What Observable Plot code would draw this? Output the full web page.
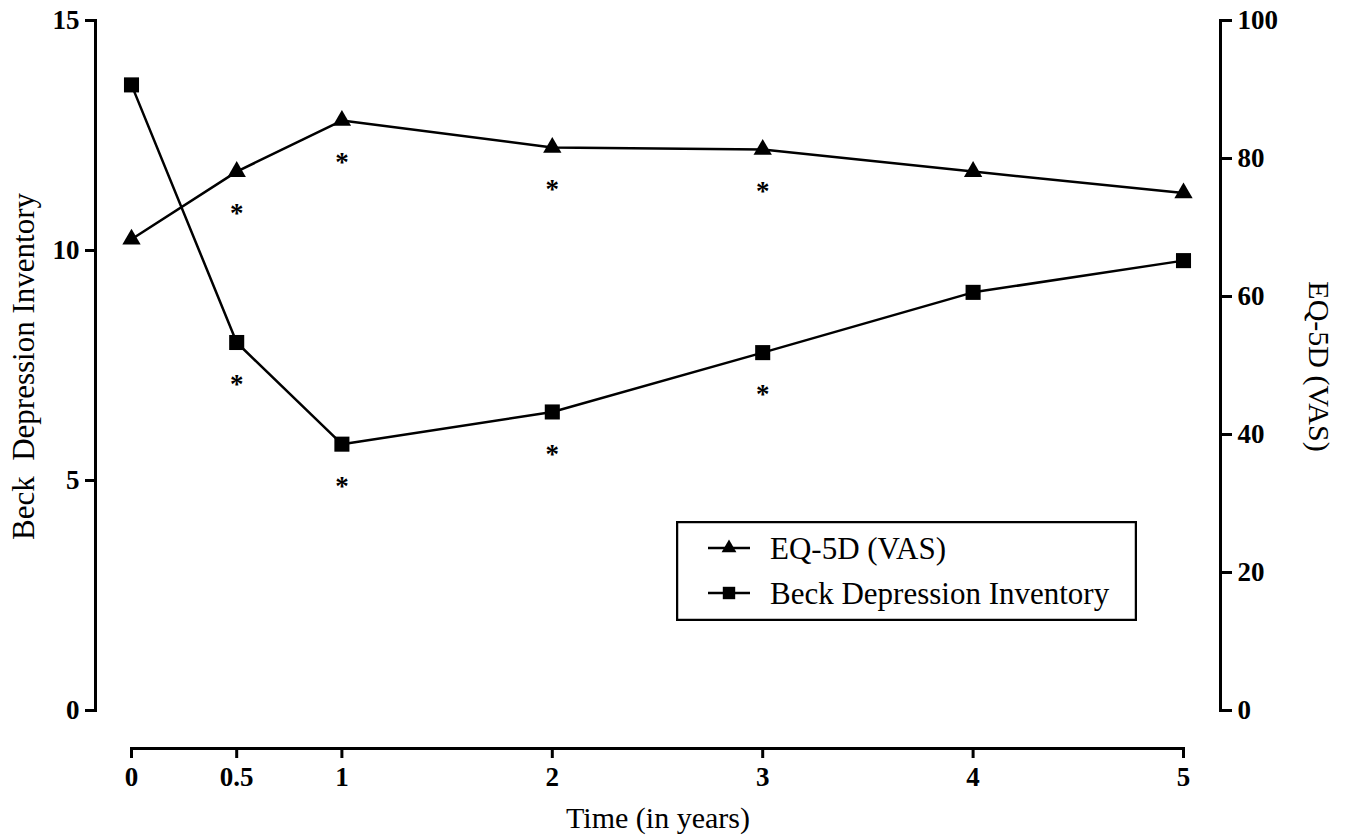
<!DOCTYPE html>
<html><head><meta charset="utf-8">
<script src="https://cdn.jsdelivr.net/npm/d3@7"></script>
<script src="https://cdn.jsdelivr.net/npm/@observablehq/plot@0.6"></script>
<style>
body{margin:0;background:#fff;}
#wrap{position:relative;width:1348px;height:838px;}
#wrap svg text{font-family:"Liberation Serif";}
</style></head><body><div id="wrap"></div>
<script>
const years = [0, 0.5, 1, 2, 3, 4, 5];
const beck = [13.6, 8.0, 5.79, 6.49, 7.78, 9.09, 9.78];
const eq5d = [68.3, 78.1, 85.5, 81.6, 81.3, 78.1, 75.0];
const beckSignificant = [false, true, true, true, true, false, false];
const eqSignificant = [false, true, true, true, true, false, false];
const xTicks = [0, 0.5, 1, 2, 3, 4, 5];
const beckTicks = [0, 5, 10, 15];
const eqTicks = [0, 20, 40, 60, 80, 100];
const seriesNames = ["EQ-5D (VAS)", "Beck Depression Inventory"];
const seriesSymbols = ["triangle", "square"];
const xTitle = "Time (in years)";
const leftTitle = "Beck\u00a0 Depression Inventory";
const rightTitle = "EQ-5D (VAS)";

const eqToBeck = d3.scaleLinear([0, 100], [0, 15]);
const rows = years.map((t, i) => ({t, beck: beck[i], eq: eq5d[i], bs: beckSignificant[i], es: eqSignificant[i]}));

const font = "Liberation Serif";
const tickText = {fontSize: 27, fontWeight: "bold", fontFamily: font};
const plot = Plot.plot({
  width: 1348, height: 838,
  marginLeft: 95, marginRight: 128, marginTop: 20, marginBottom: 90,
  style: {fontFamily: font, color: "#000", background: "#fff", overflow: "visible"},
  x: {domain: [0, 5], insetLeft: 36, insetRight: 37},
  y: {domain: [0, 15], insetBottom: 38},
  marks: [
    Plot.frame({anchor: "left", insetBottom: 38, strokeWidth: 3}),
    Plot.frame({anchor: "right", insetBottom: 38, strokeWidth: 3}),
    Plot.frame({anchor: "bottom", insetLeft: 36, insetRight: 37, strokeWidth: 3}),
    Plot.axisY(beckTicks, {anchor: "left", tickSize: 10, tickPadding: 6, strokeWidth: 3, ...tickText, label: null, tickFormat: d => d}),
    Plot.axisY(eqTicks, {y: eqToBeck, anchor: "right", tickSize: 11, tickPadding: 6, strokeWidth: 3, ...tickText, label: null, tickFormat: d => d}),
    Plot.axisX(xTicks, {anchor: "bottom", tickSize: 10, tickPadding: 8, strokeWidth: 3, ...tickText, label: null, tickFormat: d => d}),
    Plot.line(rows, {x: "t", y: d => eqToBeck(d.eq), stroke: "#000", strokeWidth: 2.5}),
    Plot.line(rows, {x: "t", y: "beck", stroke: "#000", strokeWidth: 2.5}),
    Plot.dot(rows, {x: "t", y: d => eqToBeck(d.eq), symbol: "triangle", r: 6.8, fill: "#000", stroke: "none"}),
    Plot.dot(rows, {x: "t", y: "beck", symbol: "square", r: 8.5, fill: "#000", stroke: "none"}),
    Plot.text(rows.filter(d => d.es), {x: "t", y: d => eqToBeck(d.eq), text: () => "*", dy: 42, fontSize: 27, fontWeight: "bold", fontFamily: font}),
    Plot.text(rows.filter(d => d.bs), {x: "t", y: "beck", text: () => "*", dy: 42, fontSize: 27, fontWeight: "bold", fontFamily: font}),
    Plot.text([xTitle], {frameAnchor: "bottom", dy: 70, lineAnchor: "middle", textAnchor: "middle", fontSize: 30, fontFamily: font}),
    Plot.text([leftTitle], {frameAnchor: "left", dx: -71, dy: -18, rotate: -90, textAnchor: "middle", lineAnchor: "middle", fontSize: 31, fontFamily: font}),
    Plot.text([rightTitle], {frameAnchor: "right", dx: 98, dy: -18, rotate: 90, textAnchor: "middle", lineAnchor: "middle", fontSize: 30, fontFamily: font})
  ]
});
const wrap = document.getElementById("wrap");
wrap.appendChild(plot);

// legend box inside plot area
const lw = 461, lh = 100;
const legend = d3.create("svg").attr("width", lw).attr("height", lh)
  .style("position", "absolute").style("left", "676px").style("top", "521px");
legend.append("rect").attr("x", 1).attr("y", 1).attr("width", lw - 2).attr("height", lh - 2)
  .attr("fill", "#fff").attr("stroke", "#000").attr("stroke-width", 2.5);
seriesNames.forEach((name, i) => {
  const cy = 27 + i * 45;
  const g = legend.append("g").attr("transform", `translate(0,${cy})`);
  g.append("line").attr("x1", 32).attr("x2", 74).attr("y1", 0).attr("y2", 0).attr("stroke", "#000").attr("stroke-width", 2.5);
  const sym = seriesSymbols[i] === "triangle" ? d3.symbolTriangle : d3.symbolSquare;
  const r = seriesSymbols[i] === "triangle" ? 5.5 : 7;
  g.append("path").attr("d", d3.symbol(sym, r * r * Math.PI)()).attr("transform", "translate(53,0)").attr("fill", "#000");
  g.append("text").attr("x", 94).attr("y", 0).attr("dy", "0.35em").attr("font-family", font).attr("font-size", 31).text(name);
});
wrap.appendChild(legend.node());
</script>
</body></html>
